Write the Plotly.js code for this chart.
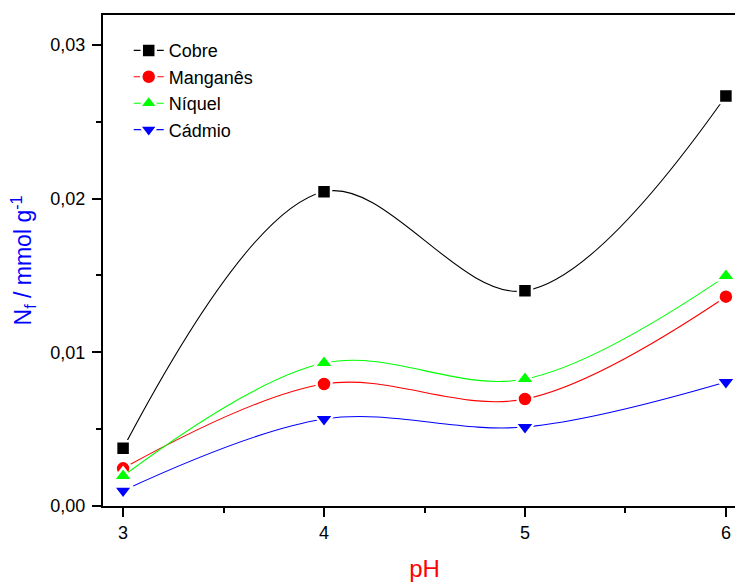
<!DOCTYPE html>
<html>
<head>
<meta charset="utf-8">
<script src="https://cdn.plot.ly/plotly-3.0.1.min.js"></script>
<style>html,body{margin:0;padding:0;overflow:hidden;background:#fff;width:735px;height:585px;}</style>
</head>
<body>
<div id="chart"></div>
<script>
const pH = [3, 4, 5, 6];
const cobre = [0.00375, 0.02045, 0.0140, 0.02668];
const manganes = [0.00245, 0.00794, 0.00696, 0.01362];
const niquel = [0.00195, 0.00930, 0.00826, 0.01496];
const cadmio = [0.00100, 0.00566, 0.00514, 0.00807];
const seriesNames = ['Cobre', 'Manganês', 'Níquel', 'Cádmio'];
const seriesColors = ['#000000', '#ff0000', '#00ff00', '#0000ff'];
const seriesSymbols = ['square', 'circle', 'triangle-up', 'triangle-down'];
const seriesData = [cobre, manganes, niquel, cadmio];
const markerSizes = [14, 15, 17, 17];

const font = 'Liberation Sans, Arial, sans-serif';
const traces = seriesData.map((ys, i) => ({
  x: pH, y: ys, name: seriesNames[i], type: 'scatter', mode: 'lines+markers',
  line: {color: seriesColors[i], width: 1.1, shape: 'spline', smoothing: 1},
  marker: {symbol: seriesSymbols[i], size: markerSizes[i], color: seriesColors[i],
           line: {color: '#ffffff', width: 2.5}},
  cliponaxis: false
}));

const layout = {
  width: 750, height: 585,
  margin: {l: 103, r: 4, t: 15, b: 79},
  paper_bgcolor: '#ffffff', plot_bgcolor: '#ffffff',
  separators: ', ',
  font: {family: font, size: 18, color: '#000'},
  showlegend: true,
  legend: {x: 0.04, y: 0.965, xanchor: 'left', yanchor: 'top',
           bgcolor: 'rgba(0,0,0,0)', font: {family: font, size: 18, color: '#000'},
           tracegroupgap: 0},
  xaxis: {
    range: [2.9, 6.1], tickvals: pH, ticktext: ['3','4','5','6'],
    showgrid: false, zeroline: false,
    showline: true, linewidth: 2, linecolor: '#000', mirror: true,
    ticks: 'outside', ticklen: 9, tickwidth: 2, tickcolor: '#000',
    minor: {dtick: 0.5, tick0: 3, ticks: 'outside', ticklen: 5, tickwidth: 2, tickcolor: '#000'},
    tickfont: {family: font, size: 18, color: '#000'},
    title: {text: 'pH', font: {family: font, size: 24, color: '#ff0000'}, standoff: 19}
  },
  yaxis: {
    range: [0, 0.03195], tickvals: [0, 0.01, 0.02, 0.03], tickformat: '.2f',
    showgrid: false, zeroline: false,
    showline: true, linewidth: 2, linecolor: '#000', mirror: true,
    ticks: 'outside', ticklen: 9, tickwidth: 2, tickcolor: '#000',
    ticklabelstandoff: 3,
    minor: {dtick: 0.005, tick0: 0, ticks: 'outside', ticklen: 5, tickwidth: 2, tickcolor: '#000'},
    tickfont: {family: font, size: 18, color: '#000'},
    title: {text: 'N<sub>f</sub> / mmol g<sup>-1</sup>', font: {family: font, size: 23, color: '#0000ff'}, standoff: 12}
  }
};

Plotly.newPlot('chart', traces, layout, {displayModeBar: false, staticPlot: true});
</script>
</body>
</html>
